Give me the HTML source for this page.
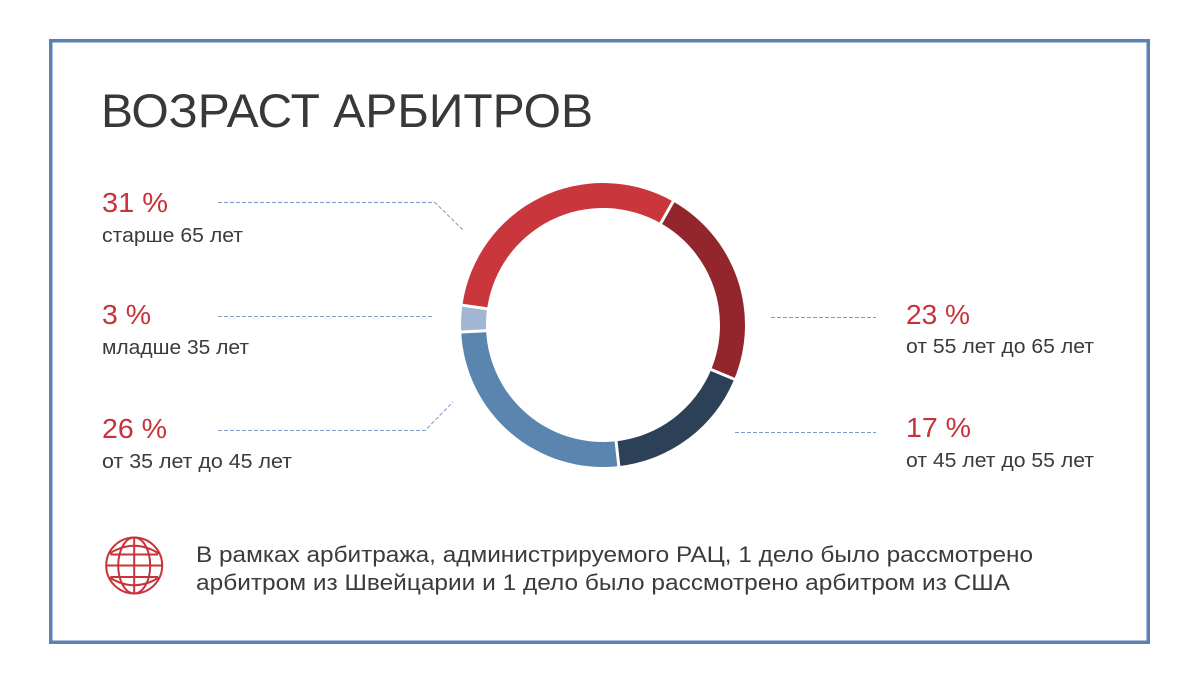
<!DOCTYPE html>
<html>
<head>
<meta charset="utf-8">
<style>
  html, body { margin: 0; padding: 0; background: #ffffff; }
  svg { display: block; }
  .t { font-family: "Liberation Sans", "DejaVu Sans", sans-serif; }
</style>
</head>
<body>
<svg width="1200" height="687" viewBox="0 0 1200 687" xmlns="http://www.w3.org/2000/svg">
  <rect x="0" y="0" width="1200" height="687" fill="#ffffff"/>
  <!-- frame -->
  <rect x="50.75" y="40.75" width="1097.5" height="601.5" fill="none" stroke="#5A82B0" stroke-width="3.5"/>

  <!-- title -->
  <text class="t" x="101" y="127" font-size="47" fill="#383838" textLength="492" lengthAdjust="spacingAndGlyphs">ВОЗРАСТ АРБИТРОВ</text>

  <!-- left labels -->
  <text class="t" x="102" y="212" font-size="28" fill="#C8323A" textLength="66" lengthAdjust="spacingAndGlyphs">31 %</text>
  <text class="t" x="102" y="242" font-size="20" fill="#3b3b3b" textLength="141" lengthAdjust="spacingAndGlyphs">старше 65 лет</text>

  <text class="t" x="102" y="324" font-size="28" fill="#C8323A" textLength="49" lengthAdjust="spacingAndGlyphs">3 %</text>
  <text class="t" x="102" y="354" font-size="20" fill="#3b3b3b" textLength="147" lengthAdjust="spacingAndGlyphs">младше 35 лет</text>

  <text class="t" x="102" y="438" font-size="28" fill="#C8323A" textLength="65" lengthAdjust="spacingAndGlyphs">26 %</text>
  <text class="t" x="102" y="468" font-size="20" fill="#3b3b3b" textLength="190" lengthAdjust="spacingAndGlyphs">от 35 лет до 45 лет</text>

  <!-- right labels -->
  <text class="t" x="906" y="324" font-size="28" fill="#C8323A" textLength="64" lengthAdjust="spacingAndGlyphs">23 %</text>
  <text class="t" x="906" y="353" font-size="20" fill="#3b3b3b" textLength="188" lengthAdjust="spacingAndGlyphs">от 55 лет до 65 лет</text>

  <text class="t" x="906" y="437" font-size="28" fill="#C8323A" textLength="65" lengthAdjust="spacingAndGlyphs">17 %</text>
  <text class="t" x="906" y="467" font-size="20" fill="#3b3b3b" textLength="188" lengthAdjust="spacingAndGlyphs">от 45 лет до 55 лет</text>

  <!-- leader lines -->
  <g fill="none" stroke="#7C9CC6" stroke-width="1" stroke-dasharray="4 2">
    <polyline points="218,202.5 435,202.5 463,230"/>
    <polyline points="218,316.5 434,316.5"/>
    <polyline points="218,430.5 425,430.5 453,402"/>
    <polyline points="771,317.5 876,317.5"/>
    <polyline points="735,432.5 876,432.5"/>
  </g>

  <!-- donut -->
  <g stroke="none">
    <path d="M462.38,305.23 A142,142 0 0 1 673.13,201.53 L660.79,223.27 A117,117 0 0 0 487.14,308.71 Z" fill="#C9373C"/>
    <path d="M673.13,201.53 A142,142 0 0 1 734.28,379.12 L711.17,369.59 A117,117 0 0 0 660.79,223.27 Z" fill="#93262C"/>
    <path d="M734.28,379.12 A142,142 0 0 1 618.83,466.12 L616.05,441.27 A117,117 0 0 0 711.17,369.59 Z" fill="#2C4157"/>
    <path d="M618.83,466.12 A142,142 0 0 1 461.17,331.93 L486.14,330.71 A117,117 0 0 0 616.05,441.27 Z" fill="#5985AE"/>
    <path d="M461.17,331.93 A142,142 0 0 1 462.38,305.23 L487.14,308.71 A117,117 0 0 0 486.14,330.71 Z" fill="#A2B6D3"/>
  </g>
  <!-- separators -->
  <g stroke="#ffffff" stroke-width="3" stroke-linecap="butt">
    <line x1="659.6" y1="225.4" x2="674.4" y2="199.3"/>
    <line x1="708.9" y1="368.6" x2="736.6" y2="380.1"/>
    <line x1="615.8" y1="438.8" x2="619.1" y2="468.6"/>
    <line x1="488.6" y1="330.6" x2="458.7" y2="332.1"/>
    <line x1="489.6" y1="309.1" x2="459.9" y2="304.9"/>
  </g>

  <!-- globe icon -->
  <g fill="none" stroke="#C8323A" stroke-width="2">
    <circle cx="134.2" cy="565.5" r="28"/>
    <ellipse cx="134.2" cy="565.5" rx="16" ry="28"/>
    <line x1="134.2" y1="537.5" x2="134.2" y2="593.5"/>
    <line x1="106.2" y1="565.5" x2="162.2" y2="565.5"/>
    <path d="M109.5,553.5 Q134.2,538 158.9,553.5"/>
    <path d="M109.5,577.5 Q134.2,593 158.9,577.5"/>
    <line x1="110.5" y1="554.5" x2="158" y2="554.5"/>
    <line x1="110.5" y1="577" x2="158" y2="577"/>
  </g>

  <!-- bottom note -->
  <text class="t" x="196" y="562" font-size="22" fill="#3b3b3b" textLength="837" lengthAdjust="spacingAndGlyphs">В рамках арбитража, администрируемого РАЦ, 1 дело было рассмотрено</text>
  <text class="t" x="196" y="590" font-size="22" fill="#3b3b3b" textLength="814" lengthAdjust="spacingAndGlyphs">арбитром из Швейцарии и 1 дело было рассмотрено арбитром из США</text>
</svg>
</body>
</html>
